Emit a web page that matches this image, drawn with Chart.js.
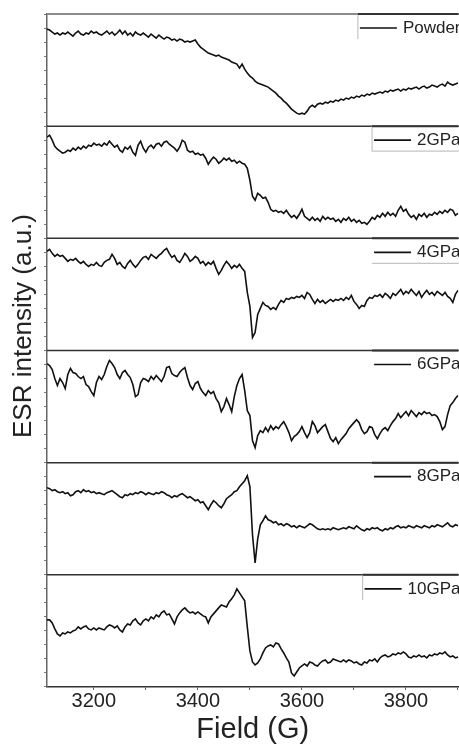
<!DOCTYPE html>
<html>
<head>
<meta charset="utf-8">
<title>ESR spectra under pressure</title>
<script src="https://cdn.jsdelivr.net/npm/chart.js@4.4.1/dist/chart.umd.min.js"></script>
<style>
  body { margin: 0; background: #fff; overflow: hidden; }
  #wrap { position: relative; width: 459px; height: 744px; }
  #yTitle {
    position: absolute; left: 22px; top: 326px;
    transform: translate(-50%, -50%) rotate(-90deg);
    font: 26px/26px "Liberation Sans", Arial, sans-serif;
    color: #222; white-space: nowrap;
  }
</style>
</head>
<body>
<div id="wrap">
  <canvas id="esr" width="459" height="744"></canvas>
  <div id="yTitle">ESR intensity (a.u.)</div>
</div>
<script>
// Field sweep: one reading every 5 G from 3110 G
const fieldStart = 3110;
const fieldStep = 5;
const fieldTicks = [3200, 3400, 3600, 3800];
const minorTicks = [3300, 3500, 3700, 3900];

const panelLabels = ['Powder', '2GPa', '4GPa', '6GPa', '8GPa', '10GPa'];

// Spectra, arbitrary units (each panel runs 0..112)
const powder = [
  97, 96, 94, 92, 93, 91, 93, 92, 94, 92, 90,
  93, 95, 92, 91, 93, 92, 95, 93, 94, 92, 91, 93, 95, 92,
  94, 91, 93, 96, 92, 95, 91, 93, 90, 94, 92, 91, 93,
  91, 89, 92, 90, 88, 91, 89, 87, 89, 88, 86,
  87, 85, 87, 86, 84, 85, 84, 85, 86,
  82, 79, 77, 75, 73, 72, 71,
  70, 71, 69, 68, 67, 66, 64, 63, 62,
  58, 62, 57, 53,
  50, 48, 45, 43, 42, 41, 40, 39, 37, 35, 33,
  30, 28, 25, 23, 20, 17, 15, 13,
  12, 13, 12, 15, 19,
  21, 19, 22, 23, 22, 24, 23, 25, 24, 26, 25, 27, 26,
  28, 27, 29, 28, 30, 29, 31, 30, 32, 31, 33, 32, 33,
  34, 33, 35, 34, 36, 35, 36, 37, 35, 37, 36, 38, 37,
  38, 39, 37, 39, 40, 38, 39, 41, 40, 39, 41, 42, 40, 44, 42, 41, 42, 43
];
const gpa2 = [
  101, 103, 98, 92, 89, 87, 85, 86, 88, 87, 90,
  88, 91, 89, 92, 90, 93, 92, 95, 93, 94, 92, 95, 93, 97,
  94, 91, 93, 88, 86, 91, 89, 92, 86, 83, 93, 97, 90,
  86, 91, 93, 90, 94, 95, 92, 96, 97, 94, 92,
  90, 87, 91, 98, 96, 88, 86, 87, 84,
  85, 83, 84, 80, 74, 78, 81,
  79, 75, 77, 80, 78, 80, 77, 78, 75,
  77, 75, 74, 70,
  58, 42, 38, 45, 43, 40, 41, 36, 29, 27, 28,
  26, 27, 25, 28, 24, 21, 23, 20,
  24, 29, 22, 20, 18,
  21, 18, 20, 17, 22, 19, 21, 19, 20, 17, 19, 16, 20,
  18, 21, 17, 19, 16, 18, 15, 16, 14, 17, 21, 19, 23,
  21, 25, 22, 26, 23, 25, 22, 28, 32, 27, 29, 24, 21,
  23, 19, 24, 22, 25, 21, 24, 23, 26, 24, 27, 25, 28, 26, 29, 28, 23, 25
];
const gpa4 = [
  99, 101, 97, 94, 96, 94, 95, 92, 89, 91, 90,
  92, 89, 87, 89, 86, 84, 86, 85, 88, 85, 84, 88, 90, 91,
  96, 92, 86, 88, 84, 82, 87, 90, 86, 83, 86, 90, 93,
  94, 91, 96, 94, 92, 95, 97, 100, 102, 97, 93,
  95, 90, 88, 92, 97, 94, 89, 91, 94,
  92, 87, 89, 85, 88, 86, 89,
  82, 76, 80, 85, 89, 86, 82, 85, 83,
  86, 82, 79, 58,
  44, 13, 18, 36, 42, 48, 45, 44, 41, 43, 41,
  46, 50, 48, 52, 51, 53, 52, 54,
  53, 55, 52, 58, 56,
  51, 47, 51, 48, 50, 47, 49, 51, 49, 51, 50, 52, 50,
  53, 51, 55, 49, 46, 42, 45, 44, 50, 53, 52, 55, 54,
  56, 53, 57, 55, 52, 57, 55, 58, 61, 56, 59, 57, 61,
  58, 55, 59, 53, 57, 60, 56, 58, 55, 59, 57, 55, 58, 54, 52, 48, 56, 60
];
const gpa6 = [
  99, 97, 93, 84, 77, 84, 80, 74, 88, 94, 90,
  89, 86, 84, 86, 78, 76, 71, 67, 80, 86, 83, 88, 96, 102,
  99, 95, 88, 84, 90, 92, 88, 85, 78, 66, 68, 80, 84,
  83, 81, 86, 83, 87, 84, 81, 86, 95, 96, 89,
  87, 86, 90, 93, 95, 85, 77, 73, 79,
  81, 74, 70, 67, 72, 69, 71,
  64, 60, 51, 56, 64, 58, 51, 66, 77,
  84, 88, 72, 52,
  47, 22, 15, 27, 32, 30, 35, 31, 37, 33, 36,
  34, 38, 41, 36, 30, 22, 26, 28,
  31, 36, 30, 25, 30,
  41, 37, 30, 33, 36, 38, 31, 24, 21, 25, 19, 23, 26,
  29, 34, 37, 40, 43, 40, 33, 29, 31, 36, 35, 28, 24,
  29, 33, 35, 32, 37, 41, 44, 49, 45, 48, 51, 47, 52,
  49, 46, 50, 48, 51, 49, 50, 47, 48, 46, 41, 33, 36, 48, 57, 60, 64, 67
];
const gpa8 = [
  87, 86, 84, 85, 83, 82, 83, 81, 82, 79, 80,
  83, 84, 82, 85, 83, 84, 82, 83, 81, 82, 81, 80, 82, 83,
  84, 82, 80, 78, 77, 80, 79, 81, 80, 82, 81, 83, 82,
  80, 82, 81, 80, 82, 81, 83, 82, 80, 79, 77,
  79, 78, 80, 81, 79, 77, 78, 76, 74,
  75, 72, 73, 69, 65, 70, 74,
  72, 69, 67, 71, 76, 78, 80, 83, 84,
  88, 91, 94, 99,
  88, 40, 12, 36, 50, 54, 59, 55, 54, 52, 53,
  50, 51, 49, 51, 50, 48, 49, 47,
  49, 48, 47, 49, 51,
  50, 48, 46, 45, 46, 45, 46, 45, 47, 46, 45, 46, 47,
  46, 48, 47, 46, 49, 47, 45, 44, 46, 45, 47, 46, 47,
  45, 44, 46, 45, 47, 46, 48, 49, 47, 48, 47, 49, 48,
  47, 49, 48, 47, 49, 48, 47, 49, 48, 50, 49, 48, 50, 52, 49, 48, 50, 49
];
const gpa10 = [
  67, 67, 64, 58, 53, 51, 54, 53, 55, 54, 56,
  57, 60, 58, 60, 61, 58, 57, 59, 57, 59, 58, 57, 60, 62,
  61, 59, 61, 57, 55, 60, 63, 62, 66, 68, 64, 62, 66,
  68, 66, 70, 68, 72, 70, 74, 76, 72, 73, 68,
  63, 70, 74, 77, 79, 76, 74, 75, 73,
  75, 73, 71, 70, 64, 70, 73,
  76, 79, 82, 81, 80, 85, 88, 92, 98,
  94, 90, 86, 60,
  36, 25, 22, 24, 28, 34, 39, 41, 42, 40, 44,
  43, 38, 34, 29, 25, 14, 11, 15,
  19, 21, 23, 21, 25,
  24, 22, 21, 24, 26, 27, 24, 25, 28, 27, 26, 25, 27,
  25, 27, 26, 24, 25, 23, 22, 25, 24, 27, 26, 28, 25,
  29, 31, 32, 30, 31, 33, 32, 34, 33, 35, 33, 30, 29,
  31, 30, 32, 30, 31, 29, 32, 31, 33, 32, 34, 33, 35, 32, 30, 31, 29, 30
];

const series = [powder, gpa2, gpa4, gpa6, gpa8, gpa10];
const panelIds = ['pPowder', 'p2', 'p4', 'p6', 'p8', 'p10'];
const field = powder.map((_, k) => fieldStart + k * fieldStep);

// which edges of each legend frame show (the right edge runs off the page)
const legendEdges = ['left', 'left bottom', 'bottom', '', '', 'left'];

const fontFamily = '"Liberation Sans", Arial, sans-serif';
Chart.defaults.font.family = fontFamily;

// Horizontal lines that split the stacked panels
const panelFrame = {
    id: 'panelFrame',
    beforeDatasetsDraw(chart) {
        const { ctx, chartArea } = chart;
        ctx.save();
        panelIds.forEach((id, i) => {
            const top = chart.scales[id].top;
            ctx.strokeStyle = i === 0 ? '#8c8c8c' : '#333';
            ctx.lineWidth = i === 0 ? 2 : 1.5;
            ctx.beginPath();
            ctx.moveTo(chartArea.left, top);
            ctx.lineTo(chartArea.right, top);
            ctx.stroke();
        });
        ctx.restore();
    }
};

// One legend per panel, right-aligned in its upper corner
const panelLegend = {
    id: 'panelLegend',
    afterDatasetsDraw(chart) {
        const { ctx, chartArea } = chart;
        ctx.save();
        ctx.font = '17px ' + fontFamily;
        ctx.textBaseline = 'middle';
        ctx.textAlign = 'left';
        chart.data.datasets.forEach((ds, i) => {
            const top = chart.scales[ds.yAxisID].top;
            const textRight = chartArea.right + 2;
            const textLeft = textRight - ctx.measureText(ds.label).width;
            const boxLeft = textLeft - 45;
            const midY = top + 14;
            const edges = legendEdges[i];

            ctx.strokeStyle = '#c4c4c4';
            ctx.lineWidth = 1.2;
            if (edges.includes('left')) {
                ctx.beginPath();
                ctx.moveTo(boxLeft, top);
                ctx.lineTo(boxLeft, top + 25);
                ctx.stroke();
            }
            if (edges.includes('bottom')) {
                ctx.beginPath();
                ctx.moveTo(boxLeft, top + 25);
                ctx.lineTo(chartArea.right + 10, top + 25);
                ctx.stroke();
            }
            // top edge sits on the panel line and darkens it
            ctx.strokeStyle = '#333';
            ctx.lineWidth = 2;
            ctx.beginPath();
            ctx.moveTo(boxLeft, top);
            ctx.lineTo(chartArea.right, top);
            ctx.stroke();

            // line sample and label
            ctx.strokeStyle = ds.borderColor;
            ctx.lineWidth = 1.6;
            ctx.beginPath();
            ctx.moveTo(boxLeft + 2, midY);
            ctx.lineTo(textLeft - 6, midY);
            ctx.stroke();
            ctx.fillStyle = '#222';
            ctx.fillText(ds.label, textLeft, midY);
        });
        ctx.restore();
    }
};

function buildScales() {
    const scales = {
        x: {
            type: 'linear',
            min: fieldStart,
            max: 3901,
            afterBuildTicks: axis => {
                axis.ticks = fieldTicks.concat(minorTicks).sort((a, b) => a - b).map(v => ({ value: v }));
            },
            ticks: {
                autoSkip: false,
                maxRotation: 0,
                padding: 1,
                color: '#222',
                font: { size: 20, lineHeight: 1 },
                callback: v => fieldTicks.includes(v) ? String(v) : ''
            },
            grid: { drawOnChartArea: false, tickLength: 3, color: '#666' },
            border: { color: '#333', width: 1.5 },
            title: {
                display: true,
                text: 'Field (G)',
                color: '#222',
                font: { size: 29, lineHeight: 1 },
                padding: { top: 3, bottom: 0 }
            }
        }
    };
    // stacked y axes, top panel first (higher weight is placed higher)
    panelIds.forEach((id, i) => {
        scales[id] = {
            type: 'linear',
            position: 'left',
            stack: 'esr',
            stackWeight: 1,
            weight: panelIds.length - i,
            min: 0,
            max: 112,
            ticks: { display: false, stepSize: 14 },
            grid: { drawOnChartArea: false, tickLength: 3, color: '#777' },
            border: { color: '#666', width: 1.5 }
        };
    });
    return scales;
}

const chart = new Chart(document.getElementById('esr'), {
    type: 'line',
    data: {
        datasets: series.map((vals, i) => ({
            label: panelLabels[i],
            yAxisID: panelIds[i],
            data: vals.map((v, k) => ({ x: field[k], y: v })),
            borderColor: '#111',
            borderWidth: 1.6,
            pointRadius: 0,
            tension: 0,
            fill: false
        }))
    },
    options: {
        responsive: false,
        animation: false,
        devicePixelRatio: 1,
        layout: { padding: { left: 44, top: 14, right: 0, bottom: 0 } },
        plugins: { legend: { display: false }, tooltip: { enabled: false } },
        scales: buildScales()
    },
    plugins: [panelFrame, panelLegend]
});
</script>
</body>
</html>
